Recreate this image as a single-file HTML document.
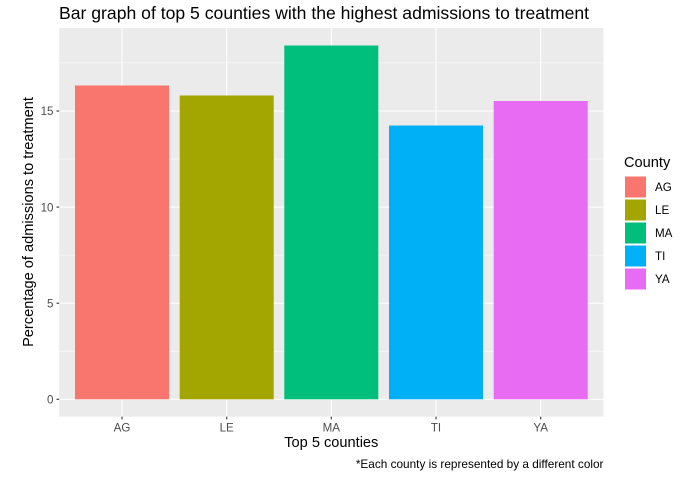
<!DOCTYPE html>
<html><head><style>body{margin:0;background:#fff}</style></head><body>
<svg width="688" height="478" xmlns="http://www.w3.org/2000/svg" font-family="Liberation Sans, sans-serif">
<rect x="59.2" y="28" width="544.3" height="388.7" fill="#ebebeb"/>
<g stroke="#fff" stroke-width="0.55">
<line x1="59.2" x2="603.5" y1="351.2" y2="351.2"/><line x1="59.2" x2="603.5" y1="255.1" y2="255.1"/>
<line x1="59.2" x2="603.5" y1="159" y2="159"/><line x1="59.2" x2="603.5" y1="62.9" y2="62.9"/>
</g>
<g stroke="#fff" stroke-width="1.1">
<line x1="59.2" x2="603.5" y1="399.3" y2="399.3"/><line x1="59.2" x2="603.5" y1="303.2" y2="303.2"/>
<line x1="59.2" x2="603.5" y1="207.1" y2="207.1"/><line x1="59.2" x2="603.5" y1="111" y2="111"/>
<line x1="122" x2="122" y1="28" y2="416.7"/><line x1="226.7" x2="226.7" y1="28" y2="416.7"/>
<line x1="331.3" x2="331.3" y1="28" y2="416.7"/><line x1="436" x2="436" y1="28" y2="416.7"/>
<line x1="540.7" x2="540.7" y1="28" y2="416.7"/>
</g>
<rect x="75" y="85.5" width="94" height="313.8" fill="#F8766D"/>
<rect x="179.7" y="95.5" width="94" height="303.8" fill="#A3A500"/>
<rect x="284.3" y="45.5" width="94" height="353.8" fill="#00BF7D"/>
<rect x="389" y="125.5" width="94" height="273.8" fill="#00B0F6"/>
<rect x="493.7" y="101" width="94" height="298.3" fill="#E76BF3"/>
<g stroke="#333" stroke-width="1.1">
<line x1="56.5" x2="59.2" y1="399.3" y2="399.3"/><line x1="56.5" x2="59.2" y1="303.2" y2="303.2"/>
<line x1="56.5" x2="59.2" y1="207.1" y2="207.1"/><line x1="56.5" x2="59.2" y1="111" y2="111"/>
<line x1="122" x2="122" y1="416.7" y2="419.4"/><line x1="226.7" x2="226.7" y1="416.7" y2="419.4"/>
<line x1="331.3" x2="331.3" y1="416.7" y2="419.4"/><line x1="436" x2="436" y1="416.7" y2="419.4"/>
<line x1="540.7" x2="540.7" y1="416.7" y2="419.4"/>
</g>
<g fill="#4d4d4d" font-size="11.6" text-anchor="end">
<text x="53.5" y="403.5">0</text><text x="53.5" y="307.4">5</text><text x="53.5" y="211.3">10</text><text x="53.5" y="115.2">15</text>
</g>
<g fill="#4d4d4d" font-size="11.6" text-anchor="middle">
<text x="122" y="431.5">AG</text><text x="226.7" y="431.5">LE</text><text x="331.3" y="431.5">MA</text><text x="436" y="431.5">TI</text><text x="540.7" y="431.5">YA</text>
</g>
<text x="59" y="19" font-size="17.6" fill="#000">Bar graph of top 5 counties with the highest admissions to treatment</text>
<text x="331.3" y="447" font-size="14.6" text-anchor="middle" fill="#000">Top 5 counties</text>
<text transform="translate(33,222) rotate(-90)" font-size="14.6" text-anchor="middle" fill="#000">Percentage of admissions to treatment</text>
<text x="603.5" y="468" font-size="11.8" text-anchor="end" fill="#000">*Each county is represented by a different color</text>
<text x="624" y="167" font-size="14.6" fill="#000">County</text>
<g stroke="#fff" stroke-width="1">
<rect x="624.5" y="176" width="22" height="22" fill="#F8766D"/>
<rect x="624.5" y="199" width="22" height="22" fill="#A3A500"/>
<rect x="624.5" y="222" width="22" height="22" fill="#00BF7D"/>
<rect x="624.5" y="245" width="22" height="22" fill="#00B0F6"/>
<rect x="624.5" y="268" width="22" height="22" fill="#E76BF3"/>
</g>
<g font-size="11.6" fill="#000">
<text x="655" y="191">AG</text><text x="655" y="214">LE</text><text x="655" y="237">MA</text><text x="655" y="260">TI</text><text x="655" y="283">YA</text>
</g>
</svg>
</body></html>
